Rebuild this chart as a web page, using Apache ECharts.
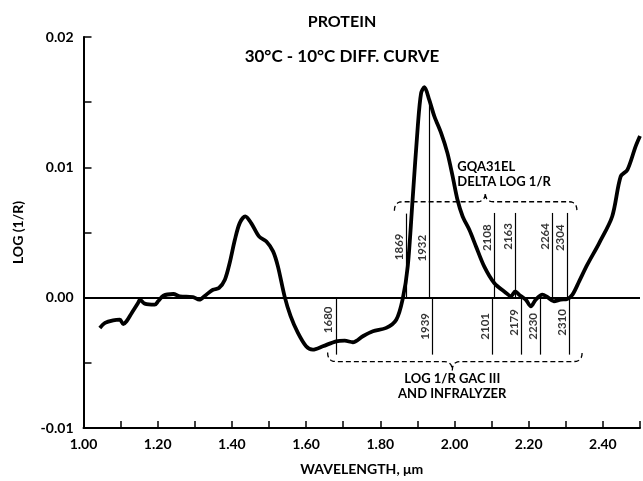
<!DOCTYPE html>
<html>
<head>
<meta charset="utf-8">
<script src="https://cdn.jsdelivr.net/npm/echarts@6/dist/echarts.min.js"></script>
<style>
  html, body { margin: 0; padding: 0; background: #fff; }
  #chart { width: 643px; height: 481px; }
</style>
</head>
<body>
<div id="chart"></div>
<script>
// curve: wavelength (um) and log(1/R) difference
var wavelength = [1.044, 1.058, 1.080, 1.098, 1.107, 1.116, 1.130, 1.147, 1.152, 1.165,
  1.192, 1.201, 1.215, 1.242, 1.260, 1.295, 1.312, 1.331, 1.349, 1.365,
  1.381, 1.394, 1.408, 1.421, 1.436, 1.452, 1.473, 1.493, 1.511, 1.524,
  1.542, 1.558, 1.578, 1.600, 1.618, 1.645, 1.681, 1.704, 1.726, 1.753,
  1.780, 1.816, 1.843, 1.860, 1.874, 1.887, 1.901, 1.910, 1.919, 1.932,
  1.946, 1.964, 1.981, 1.995, 2.008, 2.022, 2.040, 2.058, 2.080, 2.107,
  2.139, 2.152, 2.164, 2.174, 2.192, 2.206, 2.219, 2.237, 2.250, 2.268,
  2.286, 2.304, 2.318, 2.336, 2.358, 2.390, 2.425, 2.448, 2.466, 2.488, 2.500];
var logR = [-0.00232, -0.00194, -0.00174, -0.00169, -0.00202, -0.00181, -0.00117, -0.00041, -0.00015, -0.00046,
  -0.00054, -0.00028, 0.00015, 0.00028, 0.00010, 0.00005, -0.00015, 0.00023, 0.00061, 0.00074,
  0.00138, 0.00266, 0.00444, 0.00572, 0.00623, 0.00572, 0.00470, 0.00431, 0.00355, 0.00240,
  0.00010, -0.00140, -0.00271, -0.00373, -0.00398, -0.00373, -0.00335, -0.00330, -0.00342, -0.00296,
  -0.00258, -0.00232, -0.00169, -0.00015, 0.00240, 0.00751, 0.01313, 0.01569, 0.01615, 0.01517,
  0.01389, 0.01262, 0.01109, 0.00930, 0.00751, 0.00623, 0.00521, 0.00393, 0.00240, 0.00113,
  0.00036, 0.00010, 0.00048, 0.00023, -0.00015, -0.00067, -0.00015, 0.00023, 0.00005, -0.00028,
  -0.00015, -0.00010, 0.00023, 0.00125, 0.00253, 0.00419, 0.00623, 0.00930, 0.00981, 0.01159, 0.01240];

// marked wavelengths (nm)
var gqaLines = [1869, 1932, 2108, 2163, 2264, 2304];
var gqaTop = [0.00645, 0.0151, 0.0065, 0.0065, 0.0065, 0.0065];
var gacLines = [1680, 1939, 2101, 2179, 2230, 2310];
var gacBottom = -0.00437;

var FONT = 'Lato';

var curve = wavelength.map(function (w, i) { return [w, logR[i]]; });

var chart = echarts.init(document.getElementById('chart'));

function vline(x, y0, y1) {
  return [{ coord: [x, y0] }, { coord: [x, y1] }];
}

var markLines = [[{ coord: [1.0, 0] }, { coord: [2.5, 0] }]];
gqaLines.forEach(function (nm, i) { markLines.push(vline(nm / 1000, 0, gqaTop[i])); });
gacLines.forEach(function (nm) { markLines.push(vline(nm / 1000, 0, gacBottom)); });

// label anchors (value units), left of each line
var gqaLabelY = [0.0039, 0.0038, 0.0046, 0.0047, 0.0047, 0.0046];
var gacLabelY = [-0.0017, -0.0022, -0.0022, -0.0019, -0.0022, -0.0019];

function labelSeries(lines, ys) {
  return {
    type: 'scatter',
    symbolSize: 1,
    itemStyle: { color: 'transparent' },
    silent: true,
    data: lines.map(function (nm, i) { return { value: [nm / 1000, ys[i]], name: String(nm) }; }),
    label: {
      show: true,
      position: 'inside',
      formatter: '{b}',
      rotate: 90,
      offset: [0, -7],
      color: '#000',
      fontFamily: FONT,
      fontWeight: 'bold',
      fontSize: 11.5
    }
  };
}

var option = {
  animation: false,
  backgroundColor: '#fff',
  title: [{
    text: 'PROTEIN',
    left: 337, top: 9, textAlign: 'center',
    textStyle: { fontFamily: FONT, fontWeight: 'bold', fontSize: 16, color: '#000' }
  }, {
    text: '30°C - 10°C DIFF. CURVE',
    left: 337, top: 43, textAlign: 'center',
    textStyle: { fontFamily: FONT, fontWeight: 'bold', fontSize: 17, color: '#000' }
  }],
  grid: { left: 83.5, right: 2, top: 37, bottom: 51 },
  xAxis: {
    type: 'value',
    min: 1.0, max: 2.5, interval: 0.1,
    name: 'WAVELENGTH, μm',
    nameLocation: 'middle',
    nameGap: 34,
    nameTextStyle: { fontFamily: FONT, fontWeight: 'bold', fontSize: 14, color: '#000' },
    axisLine: { onZero: false, lineStyle: { color: '#000', width: 2 } },
    axisTick: { inside: true, length: 7, lineStyle: { color: '#000', width: 1.5 } },
    axisLabel: {
      color: '#000', fontFamily: FONT, fontWeight: 'bold', fontSize: 14, margin: 9,
      formatter: function (v) {
        return Math.round(v * 10) % 2 === 0 ? v.toFixed(2) : '';
      }
    },
    splitLine: { show: false }
  },
  yAxis: {
    type: 'value',
    min: -0.01, max: 0.02, interval: 0.01,
    name: 'LOG (1/R)',
    nameLocation: 'middle',
    nameGap: 58,
    nameTextStyle: { fontFamily: FONT, fontWeight: 'bold', fontSize: 14, color: '#000' },
    axisLine: { show: true, lineStyle: { color: '#000', width: 2 } },
    axisTick: { show: true, inside: true, length: 8, lineStyle: { color: '#000', width: 1.5 } },
    minorTick: { show: true, splitNumber: 2, length: 8, lineStyle: { color: '#000', width: 1.5 } },
    axisLabel: {
      color: '#000', fontFamily: FONT, fontWeight: 'bold', fontSize: 14, margin: 10,
      formatter: function (v) {
        var s = v.toFixed(2);
        return s === '-0.00' ? '0.00' : s;
      }
    },
    splitLine: { show: false }
  },
  series: [{
    type: 'line',
    data: curve,
    showSymbol: false,
    smooth: 0.3,
    lineStyle: { color: '#000', width: 3.8 },
    z: 5,
    markLine: {
      silent: true,
      symbol: 'none',
      label: { show: false },
      lineStyle: { color: '#000', width: 1.2, type: 'solid' },
      data: markLines.map(function (pair, i) {
        if (i === 0) {
          return [Object.assign({ lineStyle: { width: 2 } }, pair[0]), pair[1]];
        }
        return pair;
      })
    }
  }, labelSeries(gqaLines, gqaLabelY), labelSeries(gacLines, gacLabelY)]
};

chart.setOption(option);

// dashed curly braces grouping the marked wavelengths
var braces = [
  { from: 1.838, to: 2.330, tip: 2.083, at: 0.00736, dir: -1 },
  { from: 1.658, to: 2.344, tip: 1.994, at: -0.0049, dir: 1 }
];

function quad(p0, c, p1, n, out) {
  for (var k = 1; k <= n; k++) {
    var t = k / n, u = 1 - t;
    out.push([u * u * p0[0] + 2 * u * t * c[0] + t * t * p1[0],
              u * u * p0[1] + 2 * u * t * c[1] + t * t * p1[1]]);
  }
}

function bracePoints(b) {
  var a = chart.convertToPixel({ gridIndex: 0 }, [b.from, b.at]);
  var z = chart.convertToPixel({ gridIndex: 0 }, [b.to, b.at]);
  var m = chart.convertToPixel({ gridIndex: 0 }, [b.tip, b.at]);
  var y = a[1], h = 9 * -b.dir, r = 8;
  var pts = [[a[0], y + h]];
  quad([a[0], y + h], [a[0], y], [a[0] + r, y], 6, pts);
  pts.push([m[0] - r, y]);
  quad([m[0] - r, y], [m[0], y], [m[0], y - h], 5, pts);
  quad([m[0], y - h], [m[0], y], [m[0] + r, y], 5, pts);
  pts.push([z[0] - r, y]);
  quad([z[0] - r, y], [z[0], y], [z[0], y + h], 6, pts);
  return pts;
}

var up = chart.convertToPixel({ gridIndex: 0 }, [braces[0].tip, braces[0].at]);
var lo = chart.convertToPixel({ gridIndex: 0 }, [braces[1].tip, braces[1].at]);

chart.setOption({
  graphic: braces.map(function (b) {
    return {
      type: 'polyline',
      shape: { points: bracePoints(b) },
      style: { stroke: '#000', lineWidth: 1.3, lineDash: [5, 3], fill: null },
      silent: true
    };
  }).concat([{
    type: 'text',
    x: up[0] - 28, y: up[1] - 42,
    style: {
      text: 'GQA31EL\nDELTA LOG 1/R',
      fill: '#000', font: 'bold 13px ' + FONT, lineHeight: 15, textAlign: 'left'
    }
  }, {
    type: 'text',
    x: lo[0], y: lo[1] + 10,
    style: {
      text: 'LOG 1/R GAC III\nAND INFRALYZER',
      fill: '#000', font: 'bold 13px ' + FONT, lineHeight: 15, textAlign: 'center'
    }
  }])
});
</script>
</body>
</html>
